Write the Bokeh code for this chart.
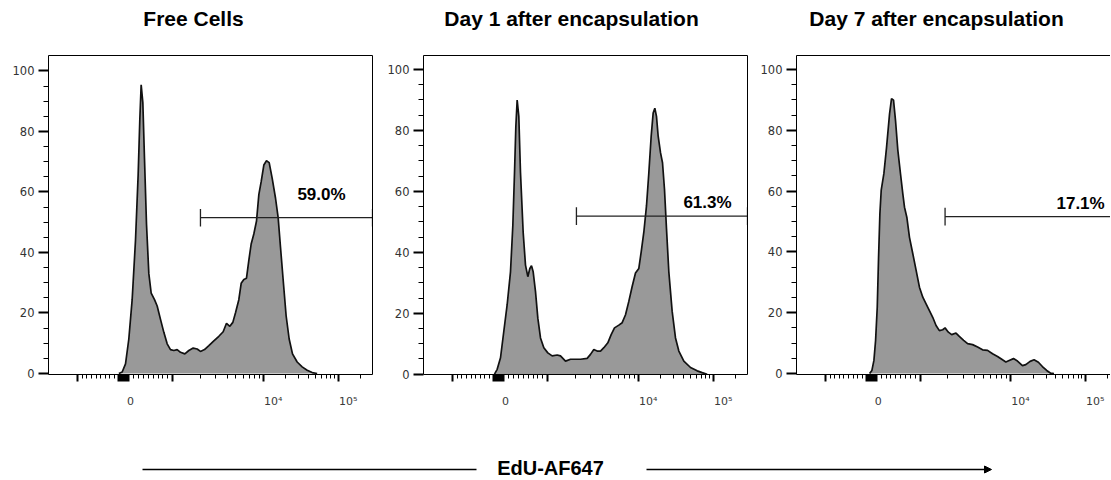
import math
from bokeh.plotting import figure
from bokeh.layouts import row, column
from bokeh.models import (FixedTicker, LinearAxis, Range1d, Label, Arrow,
                          NormalHead, CustomJSTickFormatter)
from bokeh.embed import file_html
from bokeh.resources import INLINE

# ---------------- data ----------------
titles = ["Free Cells", "Day 1 after encapsulation", "Day 7 after encapsulation"]
gate_pct = ["59.0%", "61.3%", "17.1%"]
gate_start = [469, 472, 460]          # display channel (0-1000)
gate_end = [1000, 1000, 1000]
gate_level = [51.5, 51.9, 51.6]       # % of max
label_x = [842.6, 876.5, 879.6]
label_y = [59.3, 56.5, 56.0]

# histograms: x in display channel (0-1000 of the axis), y in % of max
free_x = [217.1, 227.4, 237.7, 247.9, 258.2, 268.5, 276.7, 281.9, 286.0, 291.2, 296.3,
          302.5, 309.7, 316.9, 327.2, 335.4, 345.7, 356.0, 366.3, 376.5, 386.8, 397.1,
          407.4, 420.8, 433.1, 446.5, 458.8, 469.1, 481.5, 494.9, 510.3, 525.7, 539.1,
          549.4, 559.7, 568.9, 577.2, 587.4, 594.7, 602.9, 611.1, 618.3, 625.5, 633.7,
          642.0, 649.2, 656.4, 664.6, 672.8, 681.1, 690.3, 700.6, 708.8, 716.0, 724.3,
          733.5, 742.8, 753.1, 767.5, 782.9, 798.4, 813.8, 829.2]
free_y = [0.0, 0.5, 3.2, 11.4, 24.4, 44.0, 65.7, 84.1, 95.4, 89.5, 71.0,
          49.3, 33.0, 26.6, 24.4, 22.3, 17.9, 13.6, 9.8, 7.9, 7.6, 7.9,
          7.0, 6.5, 7.6, 8.4, 8.1, 7.3, 7.9, 9.2, 10.8, 12.3, 13.8,
          16.6, 15.6, 16.9, 20.1, 24.4, 29.8, 31.1, 31.5, 37.4, 42.8, 46.1,
          50.4, 59.1, 63.4, 68.9, 70.3, 69.7, 64.6, 58.0, 51.5, 41.8, 30.9,
          19.0, 11.4, 6.5, 3.8, 2.2, 1.1, 0.3, 0.0]

day1_x = [219.1, 227.4, 237.7, 247.9, 258.2, 268.5, 275.7, 280.9, 285.0, 289.1, 294.2,
          299.4, 307.6, 314.8, 322.0, 328.2, 333.3, 338.5, 345.7, 352.9, 361.1, 371.4,
          383.7, 397.1, 412.6, 422.8, 438.3, 453.7, 469.1, 484.6, 505.1, 515.4, 525.7,
          536.0, 546.3, 556.6, 568.9, 579.2, 589.5, 602.9, 613.2, 623.5, 633.7, 644.0,
          654.3, 664.6, 671.8, 680.0, 688.3, 695.5, 702.7, 708.8, 714.0, 719.1, 724.3,
          731.5, 737.7, 743.8, 750.0, 757.2, 767.5, 777.8, 788.1, 803.5, 824.1, 844.7,
          860.1, 875.5]
day1_y = [0.0, 1.6, 5.4, 14.1, 22.8, 33.6, 48.8, 66.1, 81.3, 90.0, 84.6,
          66.1, 46.6, 35.8, 32.0, 34.7, 35.6, 33.6, 27.1, 18.4, 11.9, 8.7,
          7.0, 6.0, 6.3, 6.0, 4.3, 4.9, 4.9, 4.9, 5.2, 6.5, 8.1,
          7.6, 7.6, 8.7, 10.3, 13.0, 15.2, 16.1, 16.9, 19.5, 23.9, 28.8,
          33.2, 34.7, 40.1, 46.6, 55.3, 66.1, 78.1, 85.7, 87.3, 84.6, 78.1,
          72.7, 69.4, 60.7, 47.7, 33.6, 20.6, 11.9, 7.6, 4.3, 2.2, 1.1,
          0.5, 0.0]

day7_x = [226.3, 233.5, 239.7, 244.9, 250.0, 254.1, 258.2, 262.3, 270.6, 278.8, 288.1,
          294.2, 300.4, 306.6, 313.8, 322.0, 329.2, 334.4, 341.6, 349.8, 360.1, 370.4,
          380.7, 391.0, 401.2, 411.5, 421.8, 432.1, 442.4, 452.7, 459.9, 470.2, 480.5,
          493.8, 504.1, 517.5, 529.8, 545.3, 560.7, 576.1, 591.6, 607.0, 622.4, 637.9,
          648.1, 658.4, 671.8, 684.2, 699.6, 709.9, 723.3, 735.6, 749.0, 761.3, 774.7,
          787.0, 797.3]
day7_y = [0.0, 1.0, 4.3, 10.9, 21.8, 38.3, 52.6, 60.3, 65.8, 74.4, 85.4,
          90.4, 89.9, 83.2, 73.4, 65.7, 59.1, 54.7, 51.4, 44.8, 39.4, 33.9,
          28.4, 25.1, 22.9, 20.7, 18.5, 15.8, 14.1, 14.4, 15.0, 13.6, 12.8,
          13.3, 12.2, 10.9, 9.8, 9.5, 8.7, 7.8, 7.6, 6.5, 5.6, 4.5,
          3.8, 4.3, 4.9, 4.1, 2.6, 2.9, 4.0, 4.5, 3.7, 2.3, 1.0,
          0.1, 0.0]

# axis knots of the logicle-like display scale (value -> display channel)
knot_values = [-1000, 0, 1000, 1e4, 1e5]
knot_pos = [90.4, 231.5, 383.6, 662.7, 894.1]
tick_label_values = [0, 1e4, 1e5]
tick_label_texts = ["0", "10\u2074", "10\u2075"]

axis_title = "EdU-AF647"

# ---------------- helpers ----------------
FONT = "Liberation Sans"
TFONT = "DejaVu Sans"
PX_PER_U = 0.324


def disp(v):
    if v <= 0:
        return knot_pos[1] + v / 1000.0 * (knot_pos[1] - knot_pos[0])
    if v <= 1000:
        return knot_pos[1] + v / 1000.0 * (knot_pos[2] - knot_pos[1])
    if v <= 1e4:
        return knot_pos[2] + (math.log10(v) - 3) * (knot_pos[3] - knot_pos[2])
    return knot_pos[3] + (math.log10(v) - 4) * (knot_pos[4] - knot_pos[3])


major_vals = knot_values + [s * k * 10 for s in (-1, 1) for k in range(1, 11)]
minor_vals = ([s * k * 100 for s in (-1, 1) for k in range(2, 10)]
              + [k * 1e3 for k in range(2, 10)]
              + [k * 1e4 for k in range(2, 10)] + [2e5])
major_ticks = [round(disp(v), 2) for v in major_vals]
minor_ticks = [round(disp(v), 2) for v in minor_vals]
label_shift_px = [7, 10, 10]
label_ticks = [round(disp(v) + s / PX_PER_U, 1) for v, s in zip(tick_label_values, label_shift_px)]


def empty_axis():
    ax = LinearAxis(ticker=FixedTicker(ticks=[], minor_ticks=[]))
    ax.major_tick_out = 0
    ax.major_tick_in = 0
    ax.minor_tick_out = 0
    ax.minor_tick_in = 0
    ax.major_label_standoff = 0
    ax.axis_line_color = "black"
    ax.axis_line_width = 1
    return ax


def make_panel(i, xs, ys, width, height, left, right, top, bottom, y0, y1, x_end,
               right_border):
    p = figure(width=width, height=height, output_backend="svg", toolbar_location=None,
               x_range=Range1d(0, x_end), y_range=Range1d(y0, y1),
               x_axis_location=None, y_axis_location="left",
               min_border_left=left, min_border_right=right,
               min_border_top=top, min_border_bottom=bottom)
    p.outline_line_color = None
    p.grid.visible = False

    # y axis
    ya = p.yaxis[0]
    ya.ticker = FixedTicker(ticks=[0, 20, 40, 60, 80, 100],
                            minor_ticks=[v for v in range(5, 100, 5) if v % 20])
    ya.major_tick_out = 10
    ya.major_tick_in = 0
    ya.minor_tick_out = 5
    ya.minor_tick_in = 0
    ya.major_tick_line_width = 2
    ya.minor_tick_line_width = 1
    ya.axis_line_color = "black"
    ya.major_label_standoff = 4
    ya.major_label_text_font = TFONT
    ya.major_label_text_font_size = "11.5px"
    ya.major_label_text_color = "#333333"

    # x axis: tick marks
    xa = LinearAxis(ticker=FixedTicker(ticks=major_ticks, minor_ticks=minor_ticks))
    xa.major_tick_out = 7
    xa.major_tick_in = 0
    xa.minor_tick_out = 4
    xa.minor_tick_in = 0
    xa.major_tick_line_width = 2
    xa.minor_tick_line_width = 1
    xa.axis_line_color = "black"
    xa.major_label_standoff = 0
    xa.major_label_text_font_size = "0px"
    xa.formatter = CustomJSTickFormatter(code="return ''")
    p.add_layout(xa, "below")

    # x axis: labels
    xl = LinearAxis(ticker=FixedTicker(ticks=label_ticks, minor_ticks=[]))
    xl.major_label_overrides = {t: s for t, s in zip(label_ticks, tick_label_texts)}
    xl.major_tick_out = 0
    xl.major_tick_in = 0
    xl.minor_tick_out = 0
    xl.minor_tick_in = 0
    xl.major_tick_line_color = None
    xl.axis_line_color = None
    xl.major_label_standoff = 13
    xl.major_label_text_font = TFONT
    xl.major_label_text_font_size = "11px"
    xl.major_label_text_color = "#3a3a3a"
    p.add_layout(xl, "below")

    p.add_layout(empty_axis(), "above")
    if right_border:
        p.add_layout(empty_axis(), "right")

    # histogram
    p.varea(x=xs, y1=[0] * len(xs), y2=ys, fill_color="#999999")
    p.line(x=xs, y=ys, line_color="#111111", line_width=1.7)

    # gate
    c = 2.9
    gs, ge, gl = gate_start[i], gate_end[i], gate_level[i]
    p.segment(x0=[gs, gs, ge], y0=[gl, gl - c, gl - c], x1=[ge, gs, ge], y1=[gl, gl + c, gl + c],
              line_color="#222222", line_width=1.3)
    p.add_layout(Label(x=label_x[i], y=label_y[i], text=gate_pct[i], text_align="center",
                       text_baseline="middle", text_font=FONT, text_font_size="17px",
                       text_font_style="bold", text_color="black"))
    return p


W = 1110
TOP_H = 40
ROW_H = 372
BOT_H = 67

# title strip (pixel coordinates)
pt = figure(width=W, height=TOP_H, output_backend="svg", toolbar_location=None,
            x_range=Range1d(0, W), y_range=Range1d(0, TOP_H),
            x_axis_location=None, y_axis_location=None, min_border=0)
pt.outline_line_color = None
pt.grid.visible = False
for cx, t in zip([193, 571, 936], titles):
    pt.add_layout(Label(x=cx, y=22, text=t, text_align="center", text_baseline="middle",
                        text_font=FONT, text_font_size="21px", text_font_style="bold",
                        text_color="black"))

p1 = make_panel(0, free_x, free_y, 382, ROW_H, 48, 10, 12, 36, -0.33, 105.1, 1000, True)
p2 = make_panel(1, day1_x, day1_y, 375, ROW_H, 41, 10, 15, 35, -0.1, 104.6, 1000, True)
p3 = make_panel(2, day7_x, day7_y, 353, ROW_H, 38, 0, 15, 38, -0.33, 104.6, 972.2, False)

# bottom axis caption with arrow (pixel coordinates)
pb = figure(width=W, height=BOT_H, output_backend="svg", toolbar_location=None,
            x_range=Range1d(0, W), y_range=Range1d(0, BOT_H),
            x_axis_location=None, y_axis_location=None, min_border=0)
pb.outline_line_color = None
pb.grid.visible = False
pb.segment(x0=[142], y0=[10], x1=[476], y1=[10], line_color="black", line_width=1.3)
pb.add_layout(Arrow(end=NormalHead(size=7, fill_color="black", line_color="black"),
                    x_start=646, y_start=10, x_end=991, y_end=10, line_width=1.3,
                    line_color="black"))
pb.add_layout(Label(x=550, y=12, text=axis_title, text_align="center", text_baseline="middle",
                    text_font=FONT, text_font_size="20px", text_font_style="bold",
                    text_color="black"))

layout = column(pt, row(p1, p2, p3), pb)
open("out.html", "w").write(file_html(layout, INLINE))
